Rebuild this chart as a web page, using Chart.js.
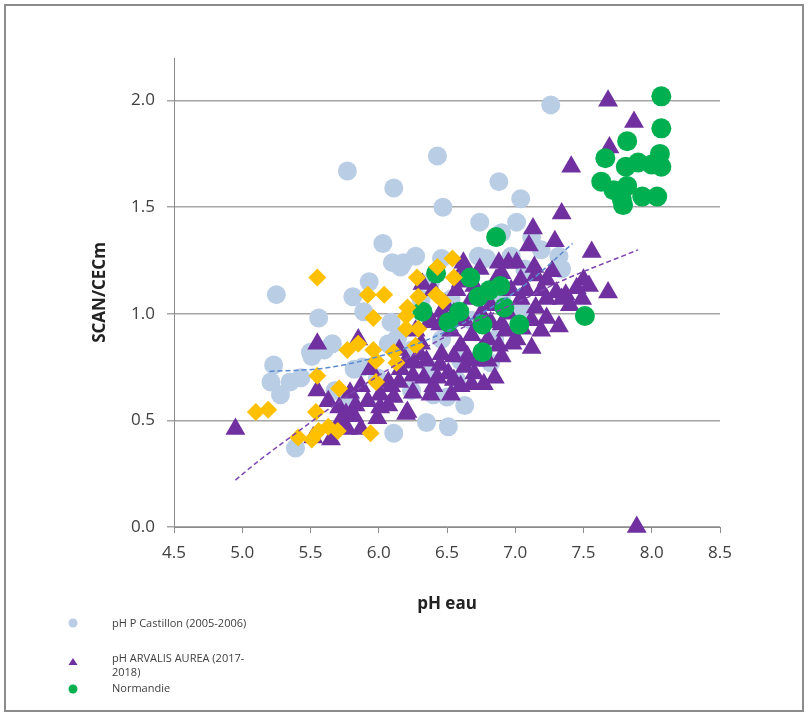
<!DOCTYPE html>
<html lang="fr">
<head>
<meta charset="UTF-8">
<title>SCAN/CECm vs pH eau</title>
<style>
  body { margin: 0; background: #fff; }
  #wrap { position: relative; width: 808px; height: 716px; }
  #frame { position: absolute; left: 4px; top: 4px; width: 796px; height: 704px; border: 2px solid #8c8c8c; }
  canvas { position: absolute; left: 0; top: 0; }
  .lg { position: absolute; font-family: "Open Sans", sans-serif; font-size: 11px; color: #404040; line-height: 14px; }
</style>
</head>
<body>
<div id="wrap">
  <div id="frame"></div>
  <canvas id="myChart" width="808" height="716"></canvas>
  <svg class="lg" style="left:66px;top:616px" width="14" height="80">
    <circle cx="7" cy="7" r="4.5" fill="#b9cde5"/>
    <polygon points="7,42 2.5,49 11.5,49" fill="#7030a0"/>
    <circle cx="7" cy="73" r="4.5" fill="#00b050"/>
  </svg>
  <div class="lg" style="left:112px;top:616px">pH P Castillon (2005-2006)</div>
  <div class="lg" style="left:112px;top:651px">pH ARVALIS AUREA (2017-<br>2018)</div>
  <div class="lg" style="left:112px;top:681px">Normandie</div>
</div>

<script src="https://cdn.jsdelivr.net/npm/chart.js"></script>
<script>
  // [pH eau, SCAN/CECm]
  const castillon = [
    [7.26,1.98],[6.43,1.74],[5.77,1.67],[6.11,1.59],[6.88,1.62],[6.47,1.50],[7.04,1.54],[6.74,1.43],
    [7.01,1.43],[6.90,1.38],[7.12,1.36],[7.19,1.30],[6.03,1.33],[5.25,1.09],[5.56,0.98],[5.81,1.08],
    [5.93,1.15],[5.89,1.01],[6.10,1.24],[6.16,1.22],[6.27,1.27],[6.46,1.26],[6.73,1.27],[6.79,1.26],
    [6.97,1.27],[7.32,1.27],[7.34,1.21],[7.07,1.21],[6.18,1.24],[5.66,0.86],[5.50,0.82],[5.23,0.76],
    [5.21,0.68],[5.28,0.62],[5.35,0.68],[5.43,0.70],[5.51,0.80],[5.60,0.83],[5.82,0.74],[5.88,0.75],
    [6.07,0.86],[6.14,0.89],[6.09,0.96],[5.99,0.70],[6.82,0.77],[5.39,0.37],[6.11,0.44],[6.35,0.49],
    [6.51,0.47],[6.63,0.57],[6.40,0.62],[6.50,0.61],[6.38,1.15],[6.85,0.88],[6.68,0.97],[6.53,1.07],
    [6.31,1.07],[6.24,0.83],[6.46,0.88],[6.60,0.78],[6.75,1.07],[6.90,1.07],[7.04,1.02],[5.79,0.60],
    [5.68,0.64],[6.24,0.64],[6.38,0.74],[6.57,0.69]
  ];
  const arvalis = [
    [7.68,2.00],[7.87,1.90],[7.69,1.78],[7.41,1.69],[7.34,1.47],[7.13,1.40],[7.10,1.32],[7.29,1.34],
    [7.56,1.29],[7.68,1.10],[7.50,1.16],[7.54,1.13],[7.45,1.12],[7.32,0.94],[7.12,0.84],[6.88,1.24],
    [6.95,1.24],[7.01,1.24],[6.74,1.21],[6.63,1.22],[7.14,1.22],[6.77,0.67],[6.20,0.53],[6.07,0.57],
    [6.63,0.75],[6.51,0.72],[6.43,0.70],[6.33,0.70],[6.25,0.71],[6.09,0.66],[6.71,0.78],[6.88,0.85],
    [4.95,0.46],[5.55,0.86],[5.55,0.64],[5.63,0.59],[5.71,0.56],[5.79,0.63],[5.87,0.66],[5.92,0.59],
    [5.82,0.52],[5.72,0.50],[5.77,0.46],[5.52,0.42],[5.65,0.41],[5.99,0.51],[6.07,0.68],[6.21,0.54],
    [6.11,0.61],[6.01,0.56],[6.55,0.69],[5.85,0.88],[6.15,0.83],[6.26,0.77],[6.37,0.96],[6.46,1.01],
    [6.62,1.24],[6.80,0.88],[6.85,0.70],[6.82,0.96],[6.70,0.72],[6.31,0.86],[6.40,1.11],[6.32,1.14],
    [7.89,0.00],[6.57,1.11],[6.97,1.11],[7.08,1.11],[7.19,1.11],[7.30,1.10],[7.37,1.09],[6.68,1.07],
    [6.82,1.04],[7.04,1.07],[7.23,1.07],[7.34,1.07],[7.49,1.07],[6.38,0.97],[6.53,0.92],[6.68,0.90],
    [6.90,0.95],[7.12,0.97],[7.23,0.98],[6.60,0.85],[6.75,0.83],[7.01,0.88],[6.16,0.74],[6.35,0.78],
    [6.46,0.81],[6.68,0.67],[6.38,0.62],[6.53,0.62],[6.93,0.92],[7.19,0.92],[7.23,1.16],[7.04,1.16],
    [6.86,1.16],[5.94,0.74],[6.01,0.62],[5.83,0.57],[5.87,0.46],[5.76,0.53],[6.49,1.04],[6.27,0.92],
    [6.63,0.97],[6.45,0.95],[6.55,1.00],[6.75,1.00],[6.95,1.00],[7.05,0.93],[7.15,1.03],[6.65,0.80],
    [6.80,0.78],[6.90,0.80],[6.45,0.76],[6.55,0.80],[6.30,0.81],[6.20,0.78],[6.60,1.15],[6.70,1.13],
    [6.90,1.19],[7.15,1.18],[7.27,1.20],[7.40,1.04],[6.98,0.86],[6.40,0.66],[6.60,0.66],[6.25,0.63],
    [6.15,0.68]
  ];
  const normandie = [
    [8.07,2.02],[8.07,1.87],[8.06,1.75],[8.07,1.69],[7.66,1.73],[7.82,1.81],[7.81,1.69],[7.90,1.71],
    [8.00,1.70],[7.63,1.62],[7.72,1.58],[7.82,1.60],[7.79,1.51],[7.78,1.54],[7.93,1.55],[8.04,1.55],
    [6.86,1.36],[6.42,1.19],[6.67,1.17],[6.73,1.08],[6.81,1.11],[6.89,1.13],[6.92,1.03],[6.59,1.01],
    [6.51,0.96],[6.76,0.95],[7.03,0.95],[7.51,0.99],[6.76,0.82],[6.32,1.01]
  ];
  const autres = [
    [5.55,1.17],[5.92,1.09],[6.04,1.09],[5.96,0.98],[6.28,1.17],[6.43,1.22],[6.54,1.26],[6.55,1.17],
    [6.29,1.08],[6.42,1.09],[6.47,1.06],[6.21,1.03],[6.20,0.99],[6.20,0.93],[6.29,0.93],[6.27,0.85],
    [6.11,0.82],[6.13,0.77],[5.85,0.86],[5.77,0.83],[5.96,0.83],[5.98,0.78],[5.55,0.71],[5.71,0.65],
    [5.98,0.68],[5.10,0.54],[5.19,0.55],[5.54,0.54],[5.41,0.42],[5.51,0.41],[5.56,0.45],[5.63,0.47],
    [5.70,0.45],[5.94,0.44]
  ];
  // courbes de tendance
  const trendCastillon = [[5.2,0.73],[5.6,0.745],[6.0,0.80],[6.4,0.89],[6.8,1.02],[7.1,1.15],[7.42,1.33]];
  const trendArvalis = [[4.95,0.22],[5.12,0.31],[5.35,0.42],[5.67,0.57],[5.9,0.67],[6.15,0.77],[6.6,0.93],[7.1,1.08],[7.36,1.16],[7.9,1.30]];

  const xTicks = [4.5, 5.0, 5.5, 6.0, 6.5, 7.0, 7.5, 8.0, 8.5];
  const yTicks = [0, 0.5, 1.0, 1.5, 2.0];

  const pts = arr => arr.map(p => ({x: p[0], y: p[1]}));
  const axisFont = {family: '"Open Sans", sans-serif', size: 17};

  const ctx = document.getElementById('myChart');
  new Chart(ctx, {
    type: 'scatter',
    data: {
      datasets: [
        {label: 'tendance Castillon', type: 'line', data: pts(trendCastillon), borderColor: '#5b8bd0', borderWidth: 1.5,
         borderDash: [5, 3], pointRadius: 0, cubicInterpolationMode: 'monotone', fill: false, order: 0},
        {label: 'tendance ARVALIS', type: 'line', data: pts(trendArvalis), borderColor: '#7e45b0', borderWidth: 1.5,
         borderDash: [5, 3], pointRadius: 0, cubicInterpolationMode: 'monotone', fill: false, order: 0},
        {label: 'autres', data: pts(autres), pointStyle: 'rectRot', pointRadius: 9, backgroundColor: '#ffc000', borderWidth: 0, order: 1},
        {label: 'Normandie', data: pts(normandie), pointStyle: 'circle', pointRadius: 10, backgroundColor: '#00b050', borderWidth: 0, order: 2},
        {label: 'pH ARVALIS AUREA (2017-2018)', data: pts(arvalis), pointStyle: 'triangle', pointRadius: 11.5, backgroundColor: '#7030a0', borderWidth: 0, order: 3},
        {label: 'pH P Castillon (2005-2006)', data: pts(castillon), pointStyle: 'circle', pointRadius: 9.5, backgroundColor: '#b9cde5', borderWidth: 0, order: 4}
      ]
    },
    options: {
      responsive: false,
      animation: false,
      clip: false,
      layout: {padding: {left: 86, top: 58, right: 88, bottom: 98}},
      plugins: {legend: {display: false}, tooltip: {enabled: false}},
      scales: {
        x: {
          type: 'linear', min: 4.5, max: 8.5,
          afterBuildTicks: s => { s.ticks = xTicks.map(v => ({value: v})); },
          afterFit: s => { s.height = 91; },
          ticks: {font: axisFont, color: '#404040', padding: 10, callback: v => v.toFixed(1)},
          grid: {drawOnChartArea: false, drawTicks: true, tickLength: 6, color: '#8c8c8c'},
          border: {display: true, color: '#8c8c8c', width: 1},
          title: {display: true, text: 'pH eau', font: {family: '"Open Sans", sans-serif', size: 17, weight: 'bold'}, color: '#222', padding: 4}
        },
        y: {
          type: 'linear', min: 0, max: 2.2,
          afterBuildTicks: s => { s.ticks = yTicks.map(v => ({value: v})); },
          afterFit: s => { s.width = 88; },
          ticks: {font: axisFont, color: '#404040', padding: 12, callback: v => v.toFixed(1)},
          grid: {color: '#a6a6a6', lineWidth: 1.5, tickLength: 7},
          border: {display: true, color: '#8c8c8c', width: 1},
          title: {display: true, text: 'SCAN/CECm', font: {family: '"Open Sans", sans-serif', size: 17, weight: 'bold'}, color: '#222', padding: 4}
        }
      }
    }
  });
</script>
</body>
</html>
